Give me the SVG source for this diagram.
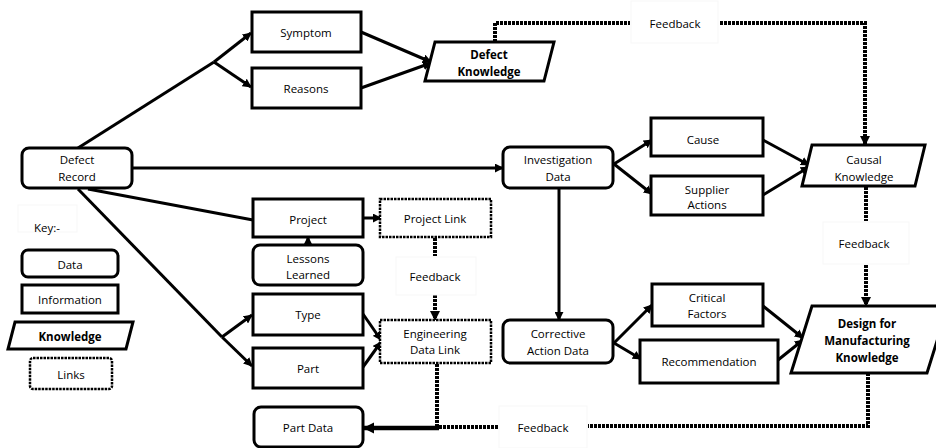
<svg xmlns="http://www.w3.org/2000/svg" width="936" height="448" viewBox="0 0 936 448">
  <defs>
    <marker id="arrow" viewBox="0 0 10 10" refX="9" refY="5" markerWidth="3" markerHeight="3" orient="auto" markerUnits="strokeWidth">
      <path d="M0,0 L10,5 L0,10 z" fill="#000"/>
    </marker>
    <marker id="arrowD" viewBox="0 0 10 10" refX="9" refY="5" markerWidth="2.5" markerHeight="2.5" orient="auto" markerUnits="strokeWidth">
      <path d="M0,0 L10,5 L0,10 z" fill="#000"/>
    </marker>
  </defs>
  <style>
    text { font-family: "Open Sans", "Liberation Sans", sans-serif; font-size: 11.5px; fill: #000; text-anchor: middle; dominant-baseline: central; }
    .b { font-weight: bold; }
    .data { fill: #fff; stroke: #000; stroke-width: 3; }
    .info { fill: #fff; stroke: #000; stroke-width: 3; }
    .know { fill: #fff; stroke: #000; stroke-width: 3; }
    .link { fill: #fff; stroke: #000; stroke-width: 2.5; stroke-dasharray: 2.5 1; }
    .faint { fill: #fff; stroke: #f7f7f7; stroke-width: 1; }
    .edge { fill: none; stroke: #000; stroke-width: 3; }
    .fb { fill: none; stroke: #000; stroke-width: 4; stroke-dasharray: 3 1; }
  </style>

  <rect width="936" height="448" fill="#fff"/>

  <!-- connectors -->
  <g id="connectors">
    <!-- Defect Record to Symptom / Reasons -->
    <polyline class="edge" points="78,148 214,62"/>
    <line class="edge" x1="214" y1="62" x2="251" y2="33" marker-end="url(#arrow)"/>
    <line class="edge" x1="214" y1="62" x2="251" y2="87" marker-end="url(#arrow)"/>
    <!-- Symptom / Reasons to Defect Knowledge -->
    <line class="edge" x1="361" y1="32" x2="431" y2="62" marker-end="url(#arrow)"/>
    <line class="edge" x1="361" y1="88" x2="431" y2="63" marker-end="url(#arrow)"/>
    <!-- Defect Record to Investigation Data -->
    <line class="edge" x1="132" y1="168" x2="503" y2="168" marker-end="url(#arrow)"/>
    <!-- Defect Record to Project -->
    <line class="edge" x1="88" y1="189" x2="253" y2="220"/>
    <!-- Defect Record to Type / Part -->
    <polyline class="edge" points="78,189 222,337"/>
    <line class="edge" x1="222" y1="337" x2="252" y2="315" marker-end="url(#arrow)"/>
    <line class="edge" x1="222" y1="337" x2="252" y2="366" marker-end="url(#arrow)"/>
    <!-- Project to Project Link -->
    <line class="edge" x1="363" y1="218" x2="381" y2="218" marker-end="url(#arrow)"/>
    <!-- Lessons Learned to Project -->
    <line class="edge" x1="308" y1="246" x2="308" y2="237" marker-end="url(#arrow)"/>
    <!-- Type / Part to Engineering Data Link -->
    <line class="edge" x1="363" y1="314" x2="381" y2="340" marker-end="url(#arrow)"/>
    <line class="edge" x1="363" y1="367" x2="381" y2="342" marker-end="url(#arrow)"/>
    <!-- Investigation Data to Cause / Supplier Actions -->
    <line class="edge" x1="614" y1="164" x2="652" y2="140" marker-end="url(#arrow)"/>
    <line class="edge" x1="614" y1="164" x2="652" y2="194" marker-end="url(#arrow)"/>
    <!-- Cause / Supplier Actions to Causal Knowledge -->
    <line class="edge" x1="763" y1="140" x2="809" y2="165" marker-end="url(#arrow)"/>
    <line class="edge" x1="763" y1="195" x2="809" y2="167" marker-end="url(#arrow)"/>
    <!-- Investigation Data to Corrective Action Data -->
    <line class="edge" x1="559" y1="188" x2="559" y2="320" marker-end="url(#arrow)"/>
    <!-- Corrective Action Data to Critical Factors / Recommendation -->
    <line class="edge" x1="614" y1="343" x2="652" y2="305" marker-end="url(#arrow)"/>
    <line class="edge" x1="614" y1="343" x2="641" y2="359" marker-end="url(#arrow)"/>
    <!-- Critical Factors / Recommendation to Design for Manufacturing Knowledge -->
    <line class="edge" x1="763" y1="306" x2="803" y2="338" marker-end="url(#arrow)"/>
    <line class="edge" x1="778" y1="360" x2="803" y2="340" marker-end="url(#arrow)"/>

    <!-- feedback: Defect Knowledge to Causal Knowledge -->
    <polyline class="fb" points="495,42 495,23 630,23" marker-start="url(#arrowD)"/>
    <polyline class="fb" points="720,23 865,23 865,145" marker-end="url(#arrowD)"/>
    <!-- feedback: Causal Knowledge to Design for Manufacturing Knowledge -->
    <line class="fb" x1="866" y1="187" x2="866" y2="221"/>
    <line class="fb" x1="866" y1="265" x2="866" y2="306" marker-end="url(#arrowD)"/>
    <!-- feedback: Project Link to Engineering Data Link -->
    <line class="fb" x1="435" y1="238" x2="435" y2="256"/>
    <line class="fb" x1="435" y1="295" x2="435" y2="320" marker-end="url(#arrowD)"/>
    <!-- feedback: Design for Manufacturing Knowledge to Part Data -->
    <polyline class="fb" points="868,373 868,426 588,426"/>
    <polyline class="fb" points="498,427 437,427"/>
    <line class="fb" x1="437" y1="364" x2="437" y2="428"/>
    <line x1="439" y1="428" x2="364" y2="428" stroke="#000" stroke-width="4.5" marker-end="url(#arrowD)"/>
  </g>

  <!-- feedback tags -->
  <g id="feedback-top"><rect class="faint" x="631" y="1" width="87" height="42"/><text x="675" y="23">Feedback</text></g>
  <g id="feedback-right"><rect class="faint" x="823" y="222" width="86" height="42"/><text x="864" y="243">Feedback</text></g>
  <g id="feedback-mid"><rect class="faint" x="396" y="257" width="80" height="38"/><text x="435" y="276">Feedback</text></g>
  <g id="feedback-bottom"><rect class="faint" x="499" y="406" width="88" height="42"/><text x="543" y="427">Feedback</text></g>

  <!-- nodes -->
  <g id="symptom"><rect class="info" x="252" y="12" width="109" height="40"/><text x="306" y="32">Symptom</text></g>
  <g id="reasons"><rect class="info" x="252" y="68" width="109" height="40"/><text x="306" y="88">Reasons</text></g>
  <g id="defect-knowledge">
    <polygon class="know" points="435,42 554,42 544,81 425,81"/>
    <text class="b" x="489" y="54">Defect</text><text class="b" x="489" y="71">Knowledge</text>
  </g>
  <g id="defect-record">
    <rect class="data" x="22" y="148" width="110" height="40" rx="7"/>
    <text x="77" y="159">Defect</text><text x="77" y="176">Record</text>
  </g>
  <g id="investigation-data">
    <rect class="data" x="503" y="147" width="110" height="41" rx="7"/>
    <text x="558" y="159">Investigation</text><text x="558" y="176">Data</text>
  </g>
  <g id="cause"><rect class="info" x="651" y="118" width="112" height="38"/><text x="703" y="139">Cause</text></g>
  <g id="supplier-actions">
    <rect class="info" x="651" y="176" width="112" height="39"/>
    <text x="707" y="189">Supplier</text><text x="707" y="204">Actions</text>
  </g>
  <g id="causal-knowledge">
    <polygon class="know" points="812,145 925,145 915,186 802,186"/>
    <text x="864" y="159">Causal</text><text x="864" y="176">Knowledge</text>
  </g>
  <g id="project"><rect class="info" x="253" y="199" width="110" height="38"/><text x="308" y="219">Project</text></g>
  <g id="project-link"><rect class="link" x="380" y="199" width="111" height="38"/><text x="435" y="218">Project Link</text></g>
  <g id="lessons-learned">
    <rect class="data" x="253" y="245" width="110" height="40" rx="7"/>
    <text x="308" y="258">Lessons</text><text x="308" y="274">Learned</text>
  </g>
  <g id="type"><rect class="info" x="253" y="294" width="110" height="41"/><text x="308" y="314">Type</text></g>
  <g id="part"><rect class="info" x="253" y="348" width="110" height="40"/><text x="308" y="368">Part</text></g>
  <g id="engineering-data-link">
    <rect class="link" x="380" y="320" width="111" height="43"/>
    <text x="435" y="333">Engineering</text><text x="435" y="349">Data Link</text>
  </g>
  <g id="part-data"><rect class="data" x="254" y="407" width="109" height="40" rx="7"/><text x="308" y="427">Part Data</text></g>
  <g id="corrective-action-data">
    <rect class="data" x="503" y="320" width="110" height="43" rx="7"/>
    <text x="558" y="333">Corrective</text><text x="558" y="350">Action Data</text>
  </g>
  <g id="critical-factors">
    <rect class="info" x="652" y="284" width="111" height="42"/>
    <text x="707" y="297">Critical</text><text x="707" y="313">Factors</text>
  </g>
  <g id="recommendation"><rect class="info" x="640" y="340" width="138" height="43"/><text x="709" y="361">Recommendation</text></g>
  <g id="dfm-knowledge">
    <polygon class="know" points="812,306 948,306 927,373 791,373"/>
    <text class="b" x="867" y="323">Design for</text><text class="b" x="867" y="340">Manufacturing</text><text class="b" x="867" y="357">Knowledge</text>
  </g>

  <!-- key -->
  <g id="key">
    <rect class="faint" x="18" y="205" width="59" height="27"/>
    <text x="47" y="227">Key:-</text>
    <rect class="data" x="22" y="250" width="96" height="27" rx="6"/><text x="70" y="264">Data</text>
    <rect class="info" x="22" y="285" width="96" height="28"/><text x="70" y="299">Information</text>
    <polygon class="know" points="15,322 133,322 126,349 8,349"/><text class="b" x="70" y="336">Knowledge</text>
    <rect class="link" x="30" y="358" width="82" height="31" rx="3"/><text x="71" y="374">Links</text>
  </g>
</svg>
